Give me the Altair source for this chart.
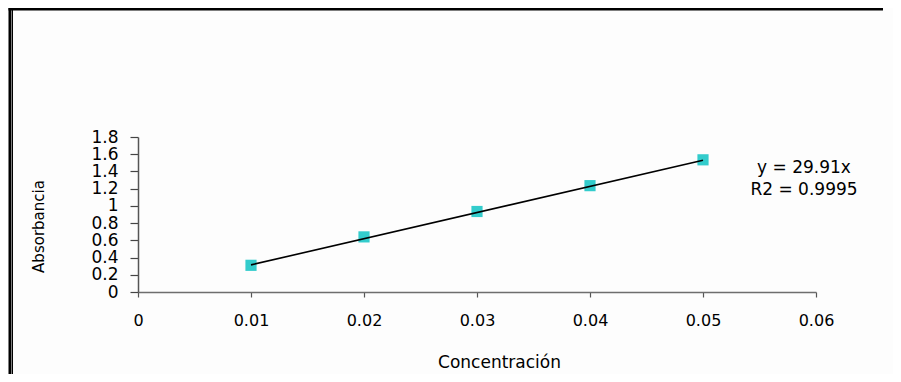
import altair as alt
import pandas as pd

# data
conc = [0.01, 0.02, 0.03, 0.04, 0.05]
absorb = [0.31, 0.64, 0.935, 1.235, 1.535]
trend_x = [0.01, 0.05]
trend_y = [0.315, 1.53]
x_ticks = [0, 0.01, 0.02, 0.03, 0.04, 0.05, 0.06]
y_ticks = [0, 0.2, 0.4, 0.6, 0.8, 1.0, 1.2, 1.4, 1.6, 1.8]
annotation = ["y = 29.91x", "R2 = 0.9995"]

pts = pd.DataFrame({"Concentración": conc, "Absorbancia": absorb})
trend = pd.DataFrame({"Concentración": trend_x, "Absorbancia": trend_y})
one = pd.DataFrame({"k": [0]})

FONT = "DejaVu Sans"
W, H = 678, 155

xenc = alt.X(
    "Concentración:Q",
    scale=alt.Scale(domain=[0, 0.06], nice=False, zero=False),
    axis=alt.Axis(
        values=x_ticks, format="~g", grid=False, tickSize=5, labelPadding=15,
        labelFontSize=16, labelFont=FONT, labelColor="#000", labelOverlap=False,
        labelFlush=False, domainColor="#6e6e6e", domainWidth=1.5, tickColor="#555",
        tickWidth=1.2, title="Concentración", titleFont=FONT, titleFontSize=17,
        titleFontWeight="normal", titleColor="#000", titleX=361, titleY=70,
        titleBaseline="middle", titleAnchor="middle", titleAlign="center",
    ),
)
yenc = alt.Y(
    "Absorbancia:Q",
    scale=alt.Scale(domain=[0, 1.8], nice=False, zero=False),
    axis=alt.Axis(
        values=y_ticks, format="~g", grid=False, tickSize=8, labelPadding=12,
        labelFontSize=17, labelFont=FONT, labelColor="#000", labelOverlap=False,
        labelFlush=False, domainColor="#555", domainWidth=1.5, tickColor="#444",
        tickWidth=1.2, title="Absorbancia", titleFont=FONT, titleFontSize=15,
        titleFontWeight="normal", titleColor="#000", titleX=-100, titleY=89,
        titleBaseline="middle", titleAnchor="middle", titleAlign="center", titleAngle=-90,
    ),
)

points = alt.Chart(pts).mark_point(
    shape="square", filled=True, size=125, color="#33CCCC", opacity=1
).encode(x=xenc, y=yenc)

line = alt.Chart(trend).mark_line(color="#000", strokeWidth=1.6).encode(
    x=xenc, y=yenc
)

text1 = alt.Chart(one).mark_text(
    font=FONT, fontSize=17, color="#000", align="center", baseline="middle"
).encode(text=alt.value(annotation[0]), x=alt.value(666), y=alt.value(31))
text2 = alt.Chart(one).mark_text(
    font=FONT, fontSize=17, color="#000", align="center", baseline="middle"
).encode(text=alt.value(annotation[1]), x=alt.value(666), y=alt.value(53))

frame_left = alt.Chart(one).mark_rule(color="#000", strokeWidth=3).encode(
    x=alt.value(-128), y=alt.value(-129), y2=alt.value(240)
)
frame_left2 = alt.Chart(one).mark_rule(color="#000", strokeWidth=1).encode(
    x=alt.value(-125.5), y=alt.value(-128), y2=alt.value(240)
)
frame_top = alt.Chart(one).mark_rule(color="#000", strokeWidth=2.5).encode(
    x=alt.value(-129.5), x2=alt.value(745), y=alt.value(-127.7)
)

chart = alt.layer(
    frame_left, frame_left2, frame_top, points, line, text1, text2
).properties(
    width=W, height=H,
    autosize=alt.AutoSizeParams(type="none"),
    padding={"left": 130, "top": 129, "right": 77, "bottom": 82},
    background="#fdfdfd",
).configure_view(stroke=None)

chart.save("out.html", embed_options={"renderer": "svg", "actions": False})
